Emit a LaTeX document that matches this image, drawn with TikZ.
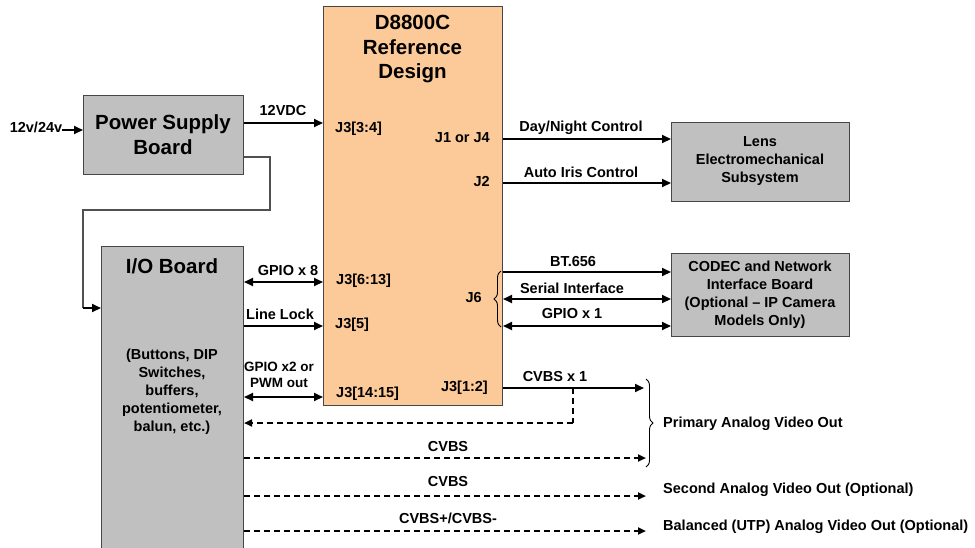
\documentclass[tikz,border=0pt]{standalone}
\usepackage{fontspec}
\setmainfont{Liberation Sans}
\usetikzlibrary{arrows.meta,decorations.pathreplacing}
\definecolor{boxgray}{RGB}{192,192,192}
\definecolor{boxorange}{RGB}{252,202,152}
\definecolor{edgegray}{RGB}{70,70,70}
\definecolor{wiregray}{RGB}{80,80,80}
\begin{document}
\begin{tikzpicture}[x=1pt,y=-1pt,
  blk/.style={draw=edgegray,line width=1pt,inner sep=0pt,anchor=north west},
  ttl/.style={font=\bfseries\fontsize{20.5}{24.5}\selectfont,align=center,inner sep=0pt},
  sub/.style={font=\bfseries\fontsize{14.5}{18}\selectfont,align=center,inner sep=0pt},
  lbl/.style={font=\bfseries\fontsize{14.5}{17}\selectfont,inner sep=0pt,anchor=base},
  lblw/.style={lbl,anchor=base west},
  lble/.style={lbl,anchor=base east},
  arr/.style={line width=2pt,-{Triangle[length=9pt,width=8pt]}},
  darr/.style={line width=2pt,{Triangle[length=9pt,width=8pt]}-{Triangle[length=9pt,width=8pt]}},
  dashline/.style={line width=2pt,dash pattern=on 6pt off 4pt},
  darrd/.style={dashline,-{Triangle[length=8pt,width=7pt]}},
  wire/.style={draw=wiregray,line width=1.3pt},
  brc/.style={draw=black,line width=0.9pt,decorate}
]
\useasboundingbox (0,0) rectangle (975,547);

% blocks
\node[blk,fill=boxgray,minimum width=160pt,minimum height=79pt] (psb) at (83,95) {};
\node[blk,fill=boxgray,minimum width=142pt,minimum height=320pt] (io) at (101,246) {};
\node[blk,fill=boxorange,minimum width=179pt,minimum height=399pt] (dsp) at (323,6) {};
\node[blk,fill=boxgray,minimum width=178pt,minimum height=79pt] (lens) at (671,122) {};
\node[blk,fill=boxgray,minimum width=178pt,minimum height=83pt] (codec) at (671,253) {};

% block texts
\node[ttl] (psbt) at (163,134.5) {Power Supply\\Board};
\node[ttl] (iot) at (172,266) {I/O Board};
\node[sub] (iotx) at (172,392) {(Buttons, DIP\\Switches,\\buffers,\\potentiometer,\\balun, etc.)};
\node[ttl] (dspt) at (412.5,49.5) {D8800C\\Reference\\Design};
\node[sub] (lenst) at (760,161.5) {Lens\\Electromechanical\\Subsystem};
\node[sub] (codect) at (760,295) {CODEC and Network\\Interface Board\\(Optional -- IP Camera\\Models Only)};

% pin labels
\node[lblw] (j34) at (335,132) {J3[3:4]};
\node[lblw] (j613) at (336,284) {J3[6:13]};
\node[lblw] (j5) at (335,328) {J3[5]};
\node[lblw] (j1415) at (336,397) {J3[14:15]};
\node[lble] (j1j4) at (490,142) {J1 or J4};
\node[lble] (j2) at (490,186) {J2};
\node[lble] (j6) at (482,302) {J6};
\node[lble] (j12) at (488,391) {J3[1:2]};

% power input
\node[lbl] (vin) at (36,132) {12v/24v};
\draw[arr] (vin.east |- 0,130) -- (psb.west |- 0,130);

% 12VDC
\draw[arr] (psb.east |- 0,123) -- (dsp.west |- 0,123);
\node[lbl] (l12) at (283,115) {12VDC};

% power to I/O
\coordinate (w1) at (270,157);
\coordinate (w2) at (270,210);
\coordinate (w3) at (83,210);
\coordinate (w4) at (83,308);
\draw[wire] (psb.east |- w1) -- (w1) -- (w2) -- (w3) -- (w4);
\draw[arr] (w4) -- (io.west |- w4);

% I/O <-> DSP
\draw[darr] (io.east |- 0,282) -- (dsp.west |- 0,282);
\node[lbl] (lg8) at (288,275) {GPIO x 8};
\draw[arr] (io.east |- 0,326) -- (dsp.west |- 0,326);
\node[lbl] (lll) at (280,319) {Line Lock};
\draw[darr] (io.east |- 0,397) -- (dsp.west |- 0,397);
\node[font=\bfseries\fontsize{13.5}{15.5}\selectfont,align=center,inner sep=0pt] (lg2) at (279,375) {GPIO x2 or\\PWM out};

% DSP -> Lens
\draw[arr] (dsp.east |- 0,139) -- (lens.west |- 0,139);
\node[lbl] (ldn) at (581,131) {Day/Night Control};
\draw[arr] (dsp.east |- 0,183) -- (lens.west |- 0,183);
\node[lbl] (lai) at (581,177) {Auto Iris Control};

% DSP <-> CODEC
\draw[arr] (dsp.east |- 0,272) -- (codec.west |- 0,272);
\node[lbl] (lbt) at (573,266) {BT.656};
\draw[darr] (dsp.east |- 0,299) -- (codec.west |- 0,299);
\node[lbl] (lsi) at (572,293) {Serial Interface};
\draw[darr] (dsp.east |- 0,326) -- (codec.west |- 0,326);
\node[lbl] (lg1) at (572,318) {GPIO x 1};
\coordinate (b1) at (501,327);
\coordinate (b2) at (501,271);
\draw[brc,decoration={brace,amplitude=7pt}] (b1) -- (b2);

% video out
\coordinate (cv1) at (644,388);
\coordinate (cvj) at (573,388);
\coordinate (cvd) at (573,423);
\draw[arr] (dsp.east |- cv1) -- (cv1);
\node[lbl] (lcv1) at (555,381) {CVBS x 1};
\draw[dashline] (cvj) -- (cvd);
\draw[darrd] (cvd) -- (io.east |- cvd);

\coordinate (e1) at (646,458);
\coordinate (e2) at (646,496);
\coordinate (e3) at (646,531);
\draw[darrd] (io.east |- e1) -- (e1);
\node[lbl] (lcv2) at (448,451) {CVBS};
\draw[darrd] (io.east |- e2) -- (e2);
\node[lbl] (lcv3) at (448,486) {CVBS};
\draw[darrd] (io.east |- e3) -- (e3);
\node[lbl] (lcv4) at (448,523) {CVBS+/CVBS-};

\coordinate (r1) at (646,379);
\coordinate (r2) at (646,467);
\draw[brc,decoration={brace,amplitude=7pt}] (r1) -- (r2);

\node[lbl,anchor=base west] (o1) at (663,427) {Primary Analog Video Out};
\node[lbl,anchor=base west] (o2) at (663,493) {Second Analog Video Out (Optional)};
\node[lbl,anchor=base west] (o3) at (663,530) {Balanced (UTP) Analog Video Out (Optional)};
\end{tikzpicture}
\end{document}
